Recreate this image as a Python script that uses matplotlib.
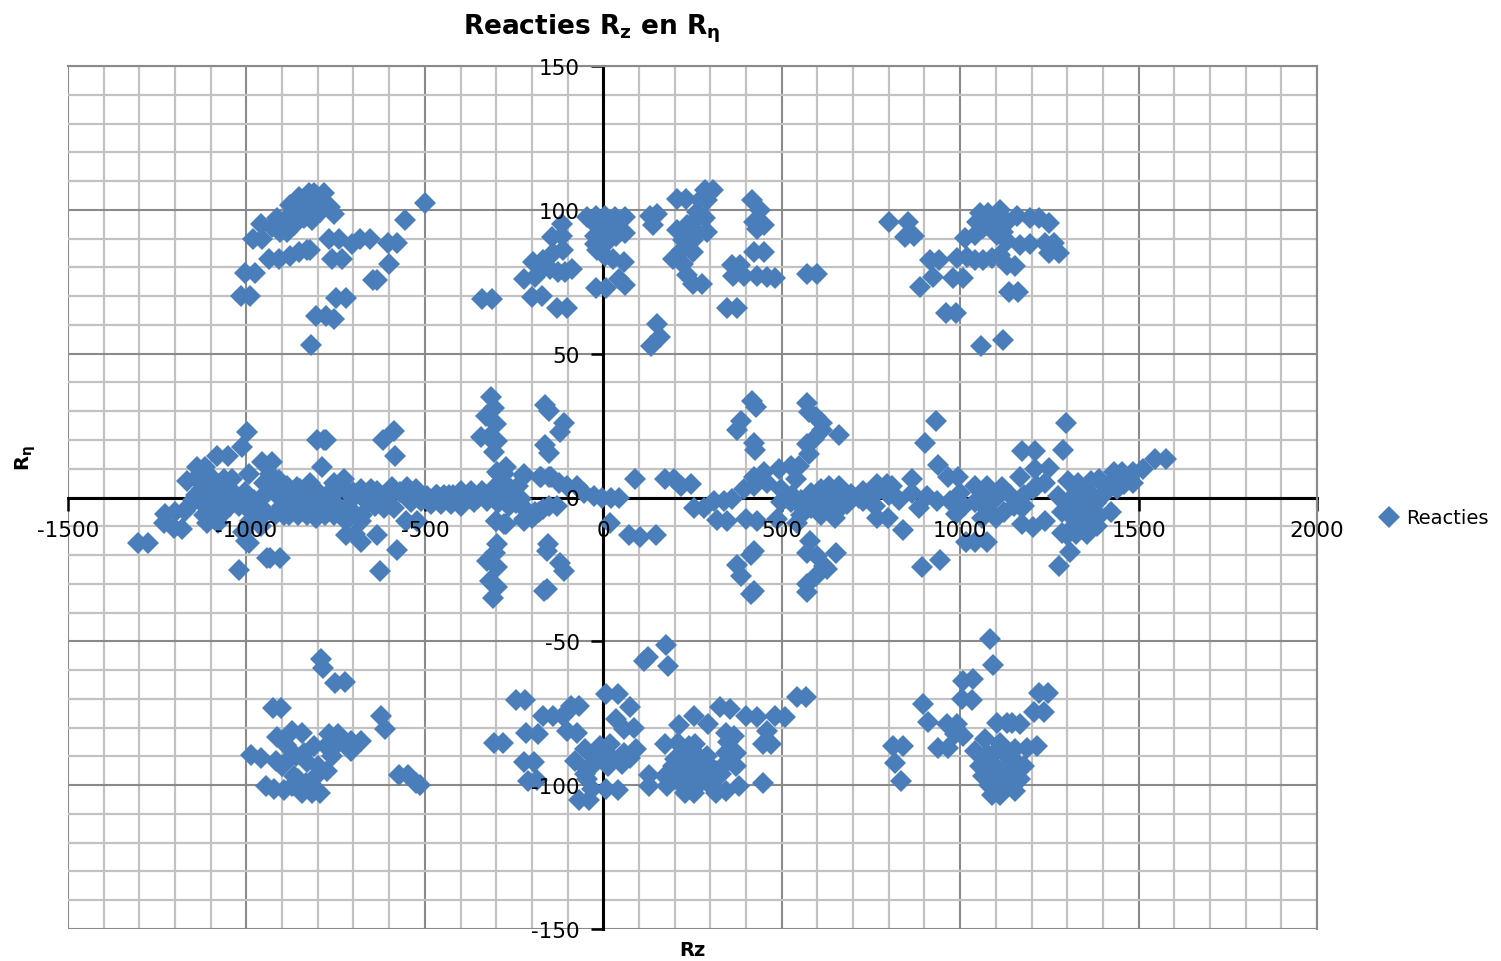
#!/usr/bin/env python3

import matplotlib
matplotlib.use("Agg")
import matplotlib.pyplot as plt
from matplotlib.lines import Line2D

plt.rcParams["axes.unicode_minus"] = False
plt.rcParams["mathtext.fontset"] = "dejavusans"

# bovenste rij, links
top_left_x = [-500, -555, -1015, -990, -1005, -977, -820, -806, -778, -755, -748, -720, -645, -635, -600,
              -760, -733, -770, -740, -705, -682, -655, -604, -578, -937, -910, -877, -854, -830, -822,
              -981, -955, -958, -928, -905, -886, -867, -877, -853, -825, -811, -783, -867, -839, -816,
              -793, -765, -755, -802, -830, -886, -905, -914, -849]
top_left_y = [102.5, 96.5, 70, 70, 78, 78, 53, 63, 63, 62, 69.5, 69.5, 75.5, 75.5, 81,
              83, 83, 90, 90, 88, 90, 90, 88.5, 88.5, 83, 83, 84, 85.5, 86, 86,
              90, 90, 95, 94, 94.6, 97, 99.3, 101.6, 104.5, 105.7, 106, 106, 94.6, 97, 96.4,
              99.3, 101, 98.7, 101.6, 101.6, 92.3, 92.3, 97, 100.5]

# bovenste rij, midden
top_mid_x = [-21, 7, 45, 61, -313, -341, -201, -173, -129, -101, -221, -192, -196, -168, -150, -126, -107, -89,
             -173, -145, -117, -117, -140, -112, -45, -21, 5, 33, 61, -23, 5, 37, 61, -19, 5, 28, 58,
             -23, 9, 37, 5, -23, 150, 140, 131, 206, 232, 285, 308, 290, 271, 262, 285, 234, 206, 262,
             290, 224, 252, 220, 252, 196, 224, 234, 252, 276, 262, 416, 439, 421, 449, 430, 422, 449,
             360, 383, 364, 393, 430, 458, 481, 348, 376, 572, 598, 150, 159, 135]
top_mid_y = [73, 73, 76, 74, 69, 69, 69.7, 70, 66, 66, 76, 76.6, 82, 82.5, 79.5, 78.4, 78.4, 79.5,
             79.5, 90.6, 91, 95, 85, 86, 97.6, 98, 98, 97.6, 97.6, 91, 92, 91, 92, 86, 84, 83, 82,
             95, 95, 95, 88, 88, 98.7, 94.6, 98, 103.6, 103.6, 107, 107, 103.4, 103.4, 97, 97, 94.6, 93, 92.3,
             92.3, 89.4, 89.4, 86, 85.3, 83, 81.3, 77.2, 74.3, 74.3, 99.3, 103.4, 100, 95.8, 94.6, 93.5, 85.3, 85.3,
             80.7, 80.7, 77, 77, 77, 76.6, 76.4, 66, 66, 77.7, 77.7, 60.3, 55.7, 52.8]

# bovenste rij, rechts
top_right_x = [801, 855, 846, 872, 916, 942, 925, 888, 979, 1007, 961, 988, 1059, 1120, 1136, 1161, 1014, 1042,
               991, 1019, 1042, 1065, 1089, 1112, 1131, 1154, 1056, 1079, 1112, 1159, 1196, 1220, 1248,
               1047, 1093, 1121, 1065, 1131, 1168, 1196, 1238, 1262, 1248, 1276, 1103, 1131]
top_right_y = [95.7, 95.7, 90.7, 91, 82.6, 82.6, 76.7, 73.2, 76.2, 76.2, 64, 64, 52.6, 54.9, 71.5, 71.5, 90.3, 91.3,
               83.1, 83.7, 82.6, 82.6, 83.1, 84.3, 80.8, 80.6, 98.8, 98.8, 100, 97.9, 97.1, 97.1, 95.3,
               95.9, 95.9, 92.4, 93.6, 89, 87.8, 88, 88.4, 88.4, 84.9, 84.9, 91.3, 95.9]

# middenband, links
band_left_x = [-1305, -1277, -1021, -626, -579, -942, -933, -907, -993, -720, -695, -680, -634, -554, -521,
               -1232, -1204, -1180, -1227, -1199, -1171, -998, -1012, -1082, -1051, -1138, -1115, -1166, -1138, -1115,
               -993, -956, -928, -1064, -1040, -802, -783, -777, -788, -617, -587, -584,
               -1125, -1100, -1075, -1150, -1125, -1100, -1075, -1050, -1120, -1095, -1070, -1110, -1080,
               -1045, -1020, -995, -970, -945, -920, -895, -900, -875, -850, -825, -800, -775, -750, -725, -700, -675,
               -900, -875, -850, -825, -800, -775, -750, -725, -880, -855, -830, -805, -780, -755, -730,
               -940, -915, -950, -930, -886, -858, -821, -755, -727, -680, -634, -700, -660, -640,
               -1100, -1085, -1060, -1130, -1090, -1140, -1160, -1050, -1030, -1005, -980, -960, -935, -910, -990,
               -850, -800, -760, -700, -660, -720, -680, -620, -650, -600, -570, -1000, -1010, -960]
band_left_y = [-15.7, -15.7, -25.2, -25.6, -18.4, -21, -21, -21, -15.7, -13, -12.8, -15.4, -13, -8, -8,
               -8.7, -10.5, -11, -5.8, -5.2, -4.7, 22.7, 17.4, 14.5, 14.5, 10.5, 10.5, 5.8, 6.4, 6.4,
               8, 12.2, 12.2, 6.4, 6.4, 20, 20, 20, 10.5, 20, 23, 14.5,
               3, 2, 3, -1, -2, -3, -2, -1, -6, -7, -6, -8.7, -8.7,
               -3, -3, -4, -4, -5, -6, -6, -3, -2, -1, 0, -1, -2, -3, -4, -5, -6,
               3, 2, 3, 4, 2, 1, 2, 3, -6, -6, -6, -7, -6, -6, -6,
               2, 1, 5, 6, 4, 3.5, 5.2, 5.2, 6.4, 2.9, 2.3, 0, -2, -3,
               7, 5, 1, 8, -5, 1, -3, 2, 1, 2, -1, 0, 8, 6, -8,
               -4, -4, -1, 2, 1, -8, -8, 0, 3, 1, 2, -15, -12, -10]

# middenband, rond nul
band_mid_x = [-592, -550, -526, -493, -465, -433, -400, -372, -339, -307, -615, -587, -540, -512, -484, -456, -428,
              -400, -363, -325, -297, -274, -222, -175, -147, -250, -231, -302, -279, -222, -194,
              89, 19, 72, 103, 147, 172, 198, 217, 245, 254, 282, 310, 338, 362, 318, 348, 399, 430,
              418, 427, 385, 376, 422, 424, 44, 21, -3, -26, -54, -73, -101, -124, -152, -176, -222, -278, -292,
              -316, -306, -330, -302, -344, -297, -306, -320, -164, -152, -110, -121, -162, -152,
              -129, -152, -180, -199, -222, -274, -302, -250, -278, -306, -335, -363, -390,
              -299, -304, -327, -299, -318, -299, -308, -154, -159, -120, -110, -157, -166,
              421, 415, 376, 385, 422, 413,
              -300, -280, -260, -240, -210, -190, -170, -420, -445, -470, -375, -350, -265, -295, -245]
band_mid_y = [3.5, 3.5, 3, 0.6, 1, 1, 2.3, 2.3, 2.3, 1.7, -3.5, -3.5, -1.7, -1.2, -2.3, -2.3, -2.3,
              -2.9, -1.7, -1.2, 8.7, 10.5, 7.5, 7, 7, 1.7, -0.6, -8, -9.3, -8, -6.4,
              6.6, -9, -13, -13.6, -13, 6.6, 6.4, 4, 4.6, -3.5, -3.5, -1.2, -1.2, -0.6, -7.8, -8.1, -7.6, -8.1,
              33.4, 31.4, 26.5, 23.3, 19, 16.6, -0.3, -0.3, -0.3, 0.6, 1.7, 4, 4, 5.2, 7, 7, 8, 8, 8,
              35, 31, 28.5, 25.6, 21, 19.8, 15.7, 21, 32, 30, 26, 22.7, 18.3, 15.5,
              -3, -3, -5, -7, -7.6, -9.3, -8, 0.5, 0.5, 0.5, 0.5, 0.5, 0.5,
              -16, -19.2, -22, -24, -29, -31, -35, -16.3, -18.6, -22.7, -25.6, -31.7, -32.5,
              -18.6, -20, -23.5, -27.3, -32.5, -33.7,
              4, 5, 3, 4, -5, -5, -4, 1, 1, 1, 0, 0, -3, -2, -2]

# middenband, rechts
band_right_x = [572, 595, 614, 577, 661, 614, 591, 572, 577, 579, 572, 600, 651, 618, 595, 572, 572, 628,
                422, 450, 492, 525, 549, 394, 422, 460, 497, 539, 497, 525, 553, 544, 488,
                581, 609, 633, 661, 694, 717, 581, 628, 661, 684, 692, 727, 762, 797, 808,
                933, 902, 938, 840, 893, 943, 1297, 1287, 1174, 1209, 1308, 1277, 866, 965, 994, 795, 766, 727,
                884, 767, 798, 866, 907, 936, 971, 988, 1017, 1041, 1076, 1000, 1041, 1076, 1116, 1169,
                1041, 1076, 1122, 1169, 1209, 1250, 1238, 1203, 1174, 1203, 1238, 1285,
                1273, 1302, 1331, 1366, 1389, 1430, 1453, 1483, 1512, 1547, 1576, 1424, 1459, 1483,
                1320, 1355, 1308, 1343, 1389, 1424, 1389, 1355, 1326, 1355, 1384, 1285, 1320,
                510, 530, 555, 600, 640, 680, 555, 610, 650, 760, 800, 830, 1010, 1060, 1095, 1140, 1180, 1150,
                1060, 1100, 1180, 1215, 1300, 1340, 1370, 1405, 1320, 1300, 1350, 1380, 1410, 1440, 1340]
band_right_y = [33, 28, 26, 29.6, 21.7, 23.3, 20.3, 18.6, 15, -15, -19.2, -20.3, -19.4, -23.8, -27.3, -30, -33, -25,
                7, 8.7, 10, 11, 10.8, 3, 4, 5.2, 3, 6.4, -1.7, -1.7, -3, -8.7, -7.6,
                1.7, 3, 4, 4, 1.2, 0, -3.5, -4, -4, -2.3, -0.6, -1.2, -2.9, 1.2, 4,
                26.7, 19, 11.4, -11.4, -24.3, -21.7, 25.8, 16.6, 16.2, 16.2, -19, -23.8, 6.4, 7, 7, 4.6, 4.6, 2.3,
                -3.5, -7, -7, 1.7, 0.6, -1.2, -1.2, -5.8, -15.6, -15.6, -15.6, 1.7, 4, 4, 3.5, 7,
                -1.7, -4, -5.2, -2.9, 9.8, 10.4, 5.2, 2.9, -9.3, -10.4, -8.1, -12.2,
                0.6, 5.8, 5.2, 5.8, 6.4, 8.7, 8.7, 8.7, 9.8, 13.3, 13.3, 5.2, 4.6, 5.2,
                0.6, 1.7, -2.9, -2.9, -0.6, -5.2, -6.4, -7.5, -12.7, -12.7, -9.8, -5.2, -7.5,
                0, 1, -1, 0, 0, -1, -6, -6, -7, 1, 1, -1, -3, 0, -1, 1, 1, -3,
                -7, -7, -3, 4, -2, -1, 1, 4, -10, -13, -4, -2, 2, 3, -9]

# onderste rij, links
low_left_x = [-790, -785, -751, -725, -925, -902, -624, -613, -573, -547, -525, -513,
              -987, -958, -918, -901, -873, -839, -810, -776, -747, -707, -679,
              -913, -873, -845, -770, -742, -707, -944, -922, -896, -873, -845, -816, -793, -833, -805, -774, -799, -867,
              -890, -860, -830, -855, -820, -760]
low_left_y = [-56.3, -59.3, -64.6, -64, -73.3, -73.3, -76, -80.5, -96.5, -96.3, -99.2, -99.8,
              -89.6, -90.4, -91.6, -93.4, -89.9, -88.7, -86.4, -86.4, -85.8, -88.1, -84.6,
              -83.4, -81.1, -81.7, -82.3, -82.3, -84.6, -100.3, -101.5, -101.7, -100.3, -102.7, -102.7, -102.7, -99.2, -96.9, -95.1, -93.4, -96.9,
              -86, -90, -92, -98, -100, -90]

# onderste rij, midden
low_mid_x = [175, 115, 125, 181, -305, -282, -245, -218, -222, -193, -210, -187, -216, -184,
             -170, -142, -102, -67, -90, -113, -102, -73, 7, 41, 75, 35, 58, 87,
             -50, -10, 18, 58, 93, -79, -45, -22, 13, 53, 75, -45, -33, -67, -39, 7, 41,
             127, 129, 173, 210, 213, 253, 293, 327, 355, 344, 367, 401, 430, 481, 510, 458, 447, 470, 544, 569, 447, 381,
             258, 241, 344, 373, 344, 373, 218, 241, 195, 230, 264, 298, 315, 173, 207, 241, 281, 310, 178, 230, 253, 315, 344,
             -30, -5, -50, 20, 200, 250, 290, 330, 220, 265, 300, 350]
low_mid_y = [-51.2, -57, -55.5, -58.6, -85.2, -85.2, -70.3, -70.3, -91.8, -91.8, -98.6, -98.3, -81.7, -82.3,
             -76, -76, -74.7, -72.4, -72.4, -75.9, -81, -81.7, -68.3, -68.3, -73, -77, -80.5, -80,
             -87.5, -86.4, -85.8, -88.7, -87.5, -91.6, -94.5, -92.2, -93.4, -92.8, -90.4, -98, -101.5, -105, -105, -101.5, -101.7,
             -96.3, -100.3, -85.8, -85.2, -79, -76, -78.8, -73, -73.5, -81.7, -82.9, -76, -76.3, -76, -76.3, -81, -85.7, -85.7, -69.5, -69.5, -99.2, -100.3,
             -85.8, -86.4, -88.7, -88.7, -92.2, -93.4, -89.8, -90.4, -93.4, -94.5, -93.4, -93.4, -95.2, -96.7, -98, -98, -98, -98, -100.3, -102.7, -102.7, -102.7, -102,
             -90, -88, -96, -90, -91, -88, -90, -96, -100, -100, -100, -85]

# onderste rij, rechts
low_right_x = [1084, 1091, 1009, 1037, 1005, 1033, 897, 911, 813, 839, 818, 834, 939, 967, 963, 991, 986, 1009,
               1220, 1245, 1207, 1236, 1103, 1131, 1145, 1168, 1042, 1070, 1112, 1154, 1187, 1215,
               1056, 1089, 1065, 1093, 1121, 1159, 1178, 1168, 1089, 1112, 1154, 1131, 1093,
               1075, 1100, 1130, 1145, 1110, 1080, 1140, 1120]
low_right_y = [-49.2, -58.3, -63.7, -63.1, -69.9, -70.5, -71.9, -78, -86.4, -86.4, -92.2, -98.6, -87, -87, -78.8, -78.8, -82.3, -82.9,
               -67.8, -68, -74.5, -74.5, -78.3, -78.3, -78.3, -78.6, -88.1, -84.1, -85.2, -87.6, -87, -86.4,
               -93.4, -92.2, -96.9, -95.7, -94.5, -92.2, -93.4, -98, -103.3, -103.3, -102.1, -100.3, -99.2,
               -89, -88, -90, -97, -97.5, -100, -99, -101]

x_ticks = [-1500, -1000, -500, 0, 500, 1000, 1500, 2000]
y_ticks = [-150, -100, -50, 0, 50, 100, 150]
x_minor = list(range(-1500, 2001, 100))
y_minor = list(range(-150, 151, 10))

rz = top_left_x + top_mid_x + top_right_x + band_left_x + band_mid_x + band_right_x + low_left_x + low_mid_x + low_right_x
reta = top_left_y + top_mid_y + top_right_y + band_left_y + band_mid_y + band_right_y + low_left_y + low_mid_y + low_right_y

W, H = 1501, 962
fig = plt.figure(figsize=(W / 100, H / 100), dpi=100)
rect = [68 / W, 1 - 930 / H, (1317 - 68) / W, (930 - 67) / H]
ax = fig.add_axes(rect)
ax.set_xlim(-1500, 2000)
ax.set_ylim(-150, 150)

# raster
ax.set_xticks(x_ticks)
ax.set_yticks(y_ticks)
ax.set_xticks(x_minor, minor=True)
ax.set_yticks(y_minor, minor=True)
ax.set_axisbelow(True)
ax.grid(which="minor", color="#C2C2C2", linewidth=1.6)
ax.grid(which="major", color="#8A8A8A", linewidth=1.5)
ax.tick_params(which="minor", length=0)
ax.tick_params(which="major", length=9, width=1.8, color="black", labelleft=False, labelbottom=False)

ax.spines["left"].set_position(("data", 0))
ax.spines["bottom"].set_position(("data", 0))
for s in ["left", "bottom"]:
    ax.spines[s].set_linewidth(2.2)
    ax.spines[s].set_zorder(1)
for s in ["top", "right"]:
    ax.spines[s].set_color("#8A8A8A")
    ax.spines[s].set_linewidth(1.5)

ax.plot(rz, reta, linestyle="none", marker="D", markersize=11.5, color="#4A7EBB", markeredgewidth=0, clip_on=False)

# labels boven de punten
over = fig.add_axes(rect, frameon=False)
over.set_xlim(-1500, 2000)
over.set_ylim(-150, 150)
over.patch.set_alpha(0)
over.set_xticks(x_ticks)
over.set_yticks(y_ticks)
over.set_xticklabels([str(v) for v in x_ticks])
over.set_yticklabels([str(v) for v in y_ticks])
over.tick_params(axis="x", length=0, pad=-58 * 0 + 0, labelsize=15.5)
over.tick_params(axis="y", length=0, labelsize=15.5)
over.spines["left"].set_position(("data", 0))
over.spines["bottom"].set_position(("data", 0))
over.tick_params(axis="x", pad=16)
over.tick_params(axis="y", pad=17)

fig.text(592 / W, 1 - 29 / H, r"Reacties R$\mathbf{_z}$ en R$\mathbf{_\eta}$", fontsize=19, fontweight="bold",
         ha="center", va="center")
fig.text(692 / W, 1 - 951 / H, "Rz", fontsize=14, fontweight="bold", ha="center", va="center")
fig.text(26 / W, 1 - 458 / H, r"R$\mathbf{_\eta}$", fontsize=14, fontweight="bold", ha="center", va="center",
         rotation=90)

handle = Line2D([], [], linestyle="none", marker="D", markersize=11, color="#4A7EBB", markeredgewidth=0)
fig.legend([handle], ["Reacties"], loc="center left", bbox_to_anchor=(1373 / W, 1 - 519 / H), frameon=False,
           fontsize=14, handlelength=1.6, handletextpad=0.1, borderpad=0, borderaxespad=0)

fig.savefig("out.png", dpi=100)
